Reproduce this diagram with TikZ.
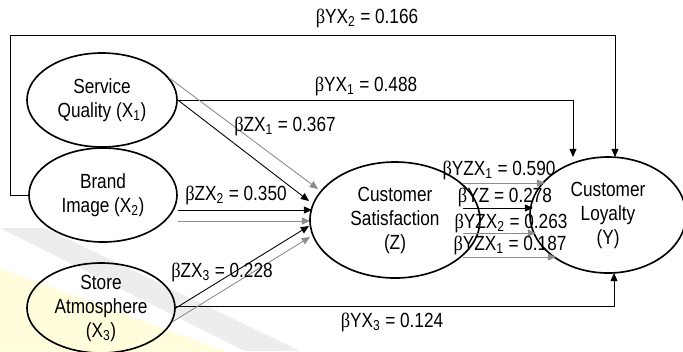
\documentclass[tikz,border=0pt]{standalone}
\usepackage{fontspec}
\setmainfont{Liberation Sans}[FakeStretch=0.84]
\newfontfamily\greekserif{Liberation Serif}[FakeStretch=0.9]
\newcommand{\bt}{{\greekserif β}}
\usetikzlibrary{shapes.geometric,arrows.meta}

\begin{document}
\begin{tikzpicture}[x=0.03cm, y=-0.03cm, font=\fontsize{17.5}{20.5}\selectfont,
    latent/.style={draw, ellipse, line width=1.4pt, inner sep=0pt, align=center},
    link/.style={-{Triangle[length=7pt,width=6pt]}, line width=0.75pt},
    glink/.style={link, black!45}]
    \useasboundingbox (0,0) rectangle (683,351);

    % Faded background marks
    \fill[black!7] (0,228) -- (45,228) -- (300,351) -- (245,351) -- cycle;
    \fill[yellow!14] (0,268) -- (225,351) -- (0,351) -- cycle;

    % Constructs
    \node[latent, minimum width=4.5cm, minimum height=2.82cm] (sq) at (102,100) {Service\\Quality (X\textsubscript{1})};
    \node[latent, minimum width=4.44cm, minimum height=2.82cm] (bi) at (103,195) {Brand\\Image (X\textsubscript{2})};
    \node[latent, minimum width=4.44cm, minimum height=2.7cm, inner ysep=-10pt] (sa) at (101,308) {Store\\Atmosphere\\(X\textsubscript{3})};
    \node[latent, minimum width=5.1cm, minimum height=3.48cm] (cs) at (395,220) {Customer\\Satisfaction\\(Z)};
    \node[latent, minimum width=4.68cm, minimum height=3.48cm] (cl) at (608,215) {Customer\\Loyalty\\(Y)};

    % Ends of the paths
    \coordinate (in1) at (573,157);
    \coordinate (in2) at (615,157);
    \coordinate (in3) at (614,273);
    \coordinate (zin1) at (318,189);
    \coordinate (zin2) at (309,201);
    \coordinate (zin3) at (312,210);
    \coordinate (zin4) at (310,221);
    \coordinate (zin5) at (309,226);
    \coordinate (zin6) at (310,237);
    \coordinate (yo1) at (463,183);
    \coordinate (yo2) at (463,208);
    \coordinate (yo3) at (463,233);
    \coordinate (yo4) at (463,257);
    \coordinate (yi1) at (545,183);
    \coordinate (yi2) at (533,208);
    \coordinate (yi3) at (536,233);
    \coordinate (yi4) at (556,257);

    % Paths
    \draw[link] (bi.west) -- ++(-18,0) |- (615,35) -- (in2);
    \draw[link] (sq.east) -| (in1);
    \draw[link] (sa.east) ++(0,-2) -| (in3);
    \draw[glink] (sq.18) -- (zin1);
    \draw[link] (sq.east) -- (zin2);
    \draw[link] (bi.east |- zin3) -- (zin3);
    \draw[glink] (bi.east |- zin4) -- (zin4);
    \draw[link] (sa.east) -- (zin5);
    \draw[glink] (sa.-11) -- (zin6);
    \draw[glink] (yo1) -- (yi1);
    \draw[link] (yo2) -- (yi2);
    \draw[glink] (yo3) -- (yi3);
    \draw[glink] (yo4) -- (yi4);

    % Coefficients
    \node (cyx2) at (367,18) {\bt YX\textsubscript{2} = 0.166};
    \node (cyx1) at (366,86) {\bt YX\textsubscript{1} = 0.488};
    \node (czx1) at (285,126) {\bt ZX\textsubscript{1} = 0.367};
    \node (czx2) at (236,195) {\bt ZX\textsubscript{2} = 0.350};
    \node (czx3) at (222,272) {\bt ZX\textsubscript{3} = 0.228};
    \node (cyx3) at (392,322) {\bt YX\textsubscript{3} = 0.124};
    \node (cyzx1) at (499,170) {\bt YZX\textsubscript{1} = 0.590};
    \node (cyz) at (505,197) {\bt YZ = 0.278};
    \node (cyzx2) at (511,223) {\bt YZX\textsubscript{2} = 0.263};
    \node (cyzx4) at (510,245) {\bt YZX\textsubscript{1} = 0.187};
\end{tikzpicture}
\end{document}
